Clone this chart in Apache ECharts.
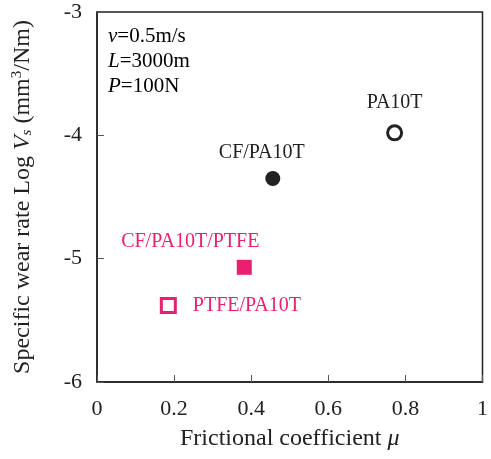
<!DOCTYPE html>
<html>
<head>
<meta charset="utf-8">
<script src="https://cdn.jsdelivr.net/npm/echarts@6/dist/echarts.min.js"></script>
<style>
  html, body { margin: 0; padding: 0; background: #fff; }
  #main { width: 491px; height: 459px; }
</style>
</head>
<body>
<div id="main"></div>
<script>
// data
var names = ["PA10T", "CF/PA10T", "CF/PA10T/PTFE", "PTFE/PA10T"];
var mu = [0.772, 0.456, 0.382, 0.185];
var logVs = [-3.98, -4.35, -5.07, -5.38];
var xTicks = [0, 0.2, 0.4, 0.6, 0.8, 1];
var yTicks = [-6, -5, -4, -3];

var black = "#222";
var pink = "#e8206f";
var font = "Liberation Serif";

// marker look and label placement per point
var looks = [
  { symbol: "circle", size: 14, fill: "#fff", stroke: black, bw: 3, color: black, pos: "top", off: [0, -7] },
  { symbol: "circle", size: 15, fill: black, stroke: black, bw: 0, color: black, pos: "top", off: [-11, -3] },
  { symbol: "rect", size: 15, fill: pink, stroke: pink, bw: 0, color: pink, pos: "top", off: [-54, -3] },
  { symbol: "rect", size: 14, fill: "#fff", stroke: pink, bw: 3, color: pink, pos: "right", off: [11, 0] }
];

var chartDom = document.getElementById("main");
var myChart = echarts.init(chartDom);

var series = names.map(function (n, i) {
  var lk = looks[i];
  return {
    name: n,
    type: "scatter",
    symbol: lk.symbol,
    symbolSize: lk.size,
    itemStyle: { color: lk.fill, borderColor: lk.stroke, borderWidth: lk.bw, opacity: 1 },
    label: {
      show: true,
      formatter: n,
      position: lk.pos,
      offset: lk.off,
      color: lk.color,
      fontFamily: font,
      fontSize: 20
    },
    data: [[mu[i], logVs[i]]]
  };
});

var option = {
  animation: false,
  grid: {
    left: 97, right: 4, top: 12, bottom: 77,
    show: true, borderColor: black, borderWidth: 1.5, backgroundColor: "transparent"
  },
  xAxis: {
    type: "value",
    min: xTicks[0], max: xTicks[xTicks.length - 1], interval: 0.2,
    name: "{t|Frictional coefficient }{i|μ}",
    nameLocation: "middle",
    nameGap: 45,
    nameTextStyle: {
      rich: {
        t: { fontFamily: font, fontSize: 24, color: black },
        i: { fontFamily: font, fontSize: 24, color: black, fontStyle: "italic" }
      }
    },
    axisLine: { show: true, lineStyle: { color: black, width: 1.5 } },
    axisTick: { show: true, inside: true, length: 7, lineStyle: { color: "#555" } },
    axisLabel: { margin: 16, fontFamily: font, fontSize: 22, color: black },
    splitLine: { show: false }
  },
  yAxis: {
    type: "value",
    min: yTicks[0], max: yTicks[yTicks.length - 1], interval: 1,
    name: "{t|Specific wear rate Log }{i|V}{s|s}{t| (mm}{sup|3}{t|/Nm)}",
    nameLocation: "middle",
    nameGap: 62,
    nameTextStyle: {
      rich: {
        t: { fontFamily: font, fontSize: 24, color: black },
        i: { fontFamily: font, fontSize: 24, color: black, fontStyle: "italic" },
        s: { fontFamily: font, fontSize: 15, color: black, fontStyle: "italic", padding: [10, 0, 0, 0] },
        sup: { fontFamily: font, fontSize: 15, color: black, padding: [0, 0, 10, 0] }
      }
    },
    axisLine: { show: true, lineStyle: { color: black, width: 1.5 } },
    axisTick: { show: true, inside: true, length: 7, lineStyle: { color: "#555" } },
    axisLabel: { margin: 15, fontFamily: font, fontSize: 22, color: black },
    splitLine: { show: false }
  },
  graphic: [
    {
      type: "text",
      left: 108,
      top: 26,
      style: {
        text: "{i|v}{t|=0.5m/s}\n{i|L}{t|=3000m}\n{i|P}{t|=100N}",
        rich: {
          t: { fontFamily: font, fontSize: 21, color: black, lineHeight: 25 },
          i: { fontFamily: font, fontSize: 21, color: black, fontStyle: "italic", lineHeight: 25 }
        }
      }
    }
  ],
  series: series
};

option && myChart.setOption(option);
</script>
</body>
</html>
